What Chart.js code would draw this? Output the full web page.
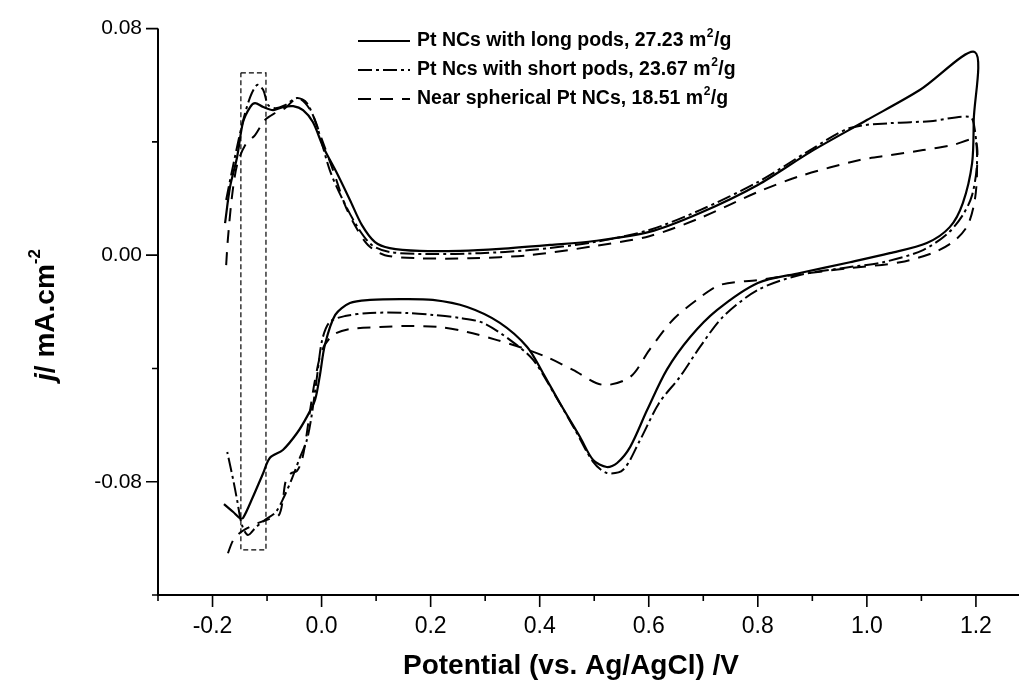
<!DOCTYPE html>
<html><head><meta charset="utf-8">
<script src="https://cdn.jsdelivr.net/npm/chart.js@4.4.0/dist/chart.umd.min.js"></script>
<style>html,body{margin:0;padding:0;background:#fff}#wrap{width:1019px;height:691px;position:relative}</style>
</head><body><div id="wrap"><canvas id="c"></canvas></div>
<script>
// ---- tick values and labels ----
const xMajorTicks = [-0.2, 0.0, 0.2, 0.4, 0.6, 0.8, 1.0, 1.2];
const xTickLabels = ['-0.2', '0.0', '0.2', '0.4', '0.6', '0.8', '1.0', '1.2'];
const xMinorTicks = [-0.3, -0.1, 0.1, 0.3, 0.5, 0.7, 0.9, 1.1];
const yMajorTicks = [-0.08, 0.0, 0.08];
const yTickLabels = ['-0.08', '0.00', '0.08'];
const yMinorTicks = [-0.12, -0.04, 0.04];

// ---- series names ----
const seriesNames = ['Pt NCs with long pods, 27.23 m', 'Pt Ncs with short pods, 23.67 m', 'Near spherical Pt NCs, 18.51 m'];

// ---- Pt NCs with long pods (solid) ----
const longX = [-0.177,-0.168,-0.155,-0.144,-0.131,-0.122,-0.107,-0.089,-0.071,-0.052,-0.034,-0.016,0.003,0.028,0.052,0.074,0.098,0.125,0.180,0.254,0.327,0.419,0.500,0.601,0.694,0.800,0.896,1.000,1.097,1.198,
  1.196,1.193,1.176,1.152,1.110,1.042,0.969,0.877,0.800,0.725,0.676,0.633,0.597,0.566,0.542,0.523,0.498,0.474,0.437,0.406,0.377,0.327,0.267,0.204,0.144,0.089,0.052,0.025,0.006,-0.003,-0.012,-0.027,-0.045,-0.071,-0.095,-0.107,-0.126,-0.144,-0.150,-0.162,-0.179];
const longY = [0.0113,0.0240,0.0346,0.0470,0.0523,0.0537,0.0523,0.0512,0.0523,0.0526,0.0512,0.0470,0.0382,0.0290,0.0195,0.0106,0.0046,0.0025,0.0015,0.0015,0.0022,0.0036,0.0050,0.0082,0.0149,0.0248,0.0364,0.0477,0.0583,0.0717,
  0.0477,0.0325,0.0184,0.0099,0.0043,0.0007,-0.0025,-0.0063,-0.0098,-0.0194,-0.0289,-0.0405,-0.0547,-0.0677,-0.0734,-0.0748,-0.0723,-0.0642,-0.0522,-0.0416,-0.0324,-0.0239,-0.0183,-0.0158,-0.0155,-0.0158,-0.0169,-0.0211,-0.0317,-0.0423,-0.0511,-0.0571,-0.0628,-0.0688,-0.0716,-0.0769,-0.0854,-0.0928,-0.0928,-0.0907,-0.0879];

// ---- Pt Ncs with short pods (dash-dot) ----
const shortX = [-0.175,-0.164,-0.146,-0.131,-0.118,-0.107,-0.098,-0.085,-0.067,-0.045,-0.027,-0.008,0.015,0.039,0.067,0.092,0.125,0.199,0.291,0.382,0.500,0.601,0.694,0.800,0.896,0.969,1.042,1.116,1.189,
  1.198,1.202,1.193,1.176,1.149,1.103,1.030,0.969,0.877,0.800,0.736,0.694,0.657,0.619,0.584,0.553,0.523,0.498,0.465,0.428,0.388,0.346,0.296,0.254,0.204,0.157,0.089,0.043,0.015,0.001,-0.008,-0.018,-0.027,-0.040,-0.054,-0.069,-0.084,-0.104,-0.120,-0.135,-0.146,-0.155,-0.162,-0.173];
const shortY = [0.0195,0.0300,0.0459,0.0558,0.0601,0.0583,0.0530,0.0519,0.0530,0.0555,0.0537,0.0452,0.0300,0.0195,0.0096,0.0036,0.0011,0.0004,0.0007,0.0018,0.0046,0.0089,0.0159,0.0258,0.0371,0.0449,0.0466,0.0473,0.0488,
  0.0442,0.0325,0.0212,0.0142,0.0078,0.0018,-0.0025,-0.0042,-0.0070,-0.0123,-0.0218,-0.0324,-0.0430,-0.0522,-0.0653,-0.0758,-0.0769,-0.0730,-0.0617,-0.0494,-0.0370,-0.0300,-0.0239,-0.0222,-0.0211,-0.0204,-0.0204,-0.0215,-0.0236,-0.0300,-0.0423,-0.0564,-0.0653,-0.0716,-0.0787,-0.0854,-0.0907,-0.0935,-0.0960,-0.0988,-0.0953,-0.0864,-0.0794,-0.0695];

// ---- Near spherical Pt NCs (dashed) ----
const nearX = [-0.175,-0.172,-0.164,-0.155,-0.140,-0.122,-0.104,-0.085,-0.067,-0.045,-0.030,-0.016,0.001,0.021,0.043,0.061,0.085,0.116,0.180,0.272,0.382,0.500,0.601,0.694,0.800,0.877,0.987,1.042,1.103,1.158,1.198,
  1.202,1.198,1.185,1.162,1.125,1.061,0.969,0.877,0.800,0.731,0.688,0.644,0.601,0.566,0.516,0.461,0.413,0.369,0.322,0.267,0.217,0.162,0.107,0.052,0.021,0.001,-0.012,-0.021,-0.029,-0.036,-0.045,-0.056,-0.066,-0.071,-0.078,-0.095,-0.117,-0.135,-0.150,-0.162,-0.173];
const nearY = [-0.0035,0.0053,0.0212,0.0318,0.0389,0.0424,0.0477,0.0502,0.0519,0.0555,0.0537,0.0495,0.0406,0.0300,0.0177,0.0106,0.0036,0.0000,-0.0011,-0.0011,0.0000,0.0032,0.0067,0.0131,0.0223,0.0279,0.0336,0.0353,0.0371,0.0389,0.0406,
  0.0300,0.0195,0.0106,0.0053,0.0011,-0.0025,-0.0046,-0.0067,-0.0088,-0.0105,-0.0158,-0.0229,-0.0335,-0.0430,-0.0458,-0.0405,-0.0360,-0.0328,-0.0300,-0.0271,-0.0254,-0.0250,-0.0254,-0.0261,-0.0282,-0.0335,-0.0441,-0.0547,-0.0653,-0.0723,-0.0762,-0.0770,-0.0800,-0.0864,-0.0917,-0.0931,-0.0946,-0.0963,-0.0981,-0.1006,-0.1059];

// ---- dashed highlight box ----
const boxX = [-0.148, -0.102, -0.102, -0.148, -0.148];
const boxY = [0.0644, 0.0644, -0.1041, -0.1041, 0.0644];

const pts = (xs, ys) => xs.map((v, i) => ({x: v, y: ys[i]}));
const FONT = '"Liberation Sans", Arial, sans-serif';
const NARROW = '"Liberation Sans Narrow", "Arial Narrow", "Liberation Sans", Arial, sans-serif';

const decorPlugin = {
  id: 'decor',
  afterDraw(chart) {
    const {ctx, chartArea: a, scales: {x, y}} = chart;
    ctx.save();
    ctx.strokeStyle = '#000';
    ctx.lineWidth = 2;
    ctx.setLineDash([]);
    ctx.beginPath();
    ctx.moveTo(a.left, a.top); ctx.lineTo(a.left, a.bottom); ctx.lineTo(a.right, a.bottom);
    ctx.stroke();
    ctx.lineWidth = 1.6;
    ctx.beginPath();
    xMajorTicks.forEach(v => { const p = x.getPixelForValue(v); ctx.moveTo(p, a.bottom); ctx.lineTo(p, a.bottom + 12); });
    xMinorTicks.forEach(v => { const p = x.getPixelForValue(v); ctx.moveTo(p, a.bottom); ctx.lineTo(p, a.bottom + 6); });
    yMajorTicks.forEach(v => { const p = y.getPixelForValue(v); ctx.moveTo(a.left, p); ctx.lineTo(a.left - 12, p); });
    yMinorTicks.forEach(v => { const p = y.getPixelForValue(v); ctx.moveTo(a.left, p); ctx.lineTo(a.left - 6, p); });
    ctx.stroke();

    ctx.fillStyle = '#000';
    // x title
    ctx.font = 'bold 28px ' + FONT;
    ctx.textAlign = 'center'; ctx.textBaseline = 'middle';
    ctx.fillText('Potential (vs. Ag/AgCl) /V', 571, 666);

    // y title (rotated, mixed styles)
    ctx.save();
    ctx.translate(44, 315);
    ctx.rotate(-Math.PI / 2);
    ctx.textBaseline = 'alphabetic'; ctx.textAlign = 'left';
    const p1 = 'j', p2 = '/ mA.cm', p3 = '-2';
    ctx.font = 'italic bold 28px ' + FONT; const w1 = ctx.measureText(p1).width;
    ctx.font = 'bold 28px ' + FONT; const w2 = ctx.measureText(p2).width;
    ctx.font = 'bold 17px ' + FONT; const w3 = ctx.measureText(p3).width;
    let sx = -(w1 + w2 + w3) / 2;
    ctx.font = 'italic bold 28px ' + FONT; ctx.fillText(p1, sx, 10); sx += w1;
    ctx.font = 'bold 28px ' + FONT; ctx.fillText(p2, sx, 10); sx += w2;
    ctx.font = 'bold 17px ' + FONT; ctx.fillText(p3, sx, -4);
    ctx.restore();

    // legend
    const dashes = [[], [14, 4, 3, 4], [13, 9]];
    const rowsY = [41, 70, 99];
    seriesNames.forEach((name, i) => {
      const ly = rowsY[i];
      ctx.lineWidth = 2.2; ctx.setLineDash(dashes[i]);
      ctx.beginPath(); ctx.moveTo(358, ly); ctx.lineTo(410, ly); ctx.stroke();
      ctx.setLineDash([]);
      ctx.textAlign = 'left'; ctx.textBaseline = 'middle';
      ctx.font = 'bold 19.5px ' + FONT;
      ctx.fillText(name, 417, ly);
      let tx = 417 + ctx.measureText(name).width;
      ctx.font = 'bold 12px ' + FONT;
      ctx.fillText('2', tx + 0.5, ly - 7);
      tx += ctx.measureText('2').width + 1;
      ctx.font = 'bold 19.5px ' + FONT;
      ctx.fillText('/g', tx, ly);
    });
    ctx.restore();
  }
};

new Chart(document.getElementById('c'), {
  type: 'scatter',
  data: {
    datasets: [
      {label: seriesNames[0], data: pts(longX, longY), showLine: true, borderColor: '#000', borderWidth: 2.2, pointRadius: 0, tension: 0.3, borderDash: []},
      {label: seriesNames[1], data: pts(shortX, shortY), showLine: true, borderColor: '#000', borderWidth: 2, pointRadius: 0, tension: 0.3, borderDash: [14, 4, 3, 4]},
      {label: seriesNames[2], data: pts(nearX, nearY), showLine: true, borderColor: '#000', borderWidth: 2, pointRadius: 0, tension: 0.3, borderDash: [13, 9]},
      {label: 'box', data: pts(boxX, boxY), showLine: true, borderColor: '#000', borderWidth: 1.2, pointRadius: 0, tension: 0, borderDash: [5, 3]}
    ]
  },
  options: {
    responsive: true, maintainAspectRatio: false, animation: false,
    layout: {padding: {left: 0, right: 0, top: 28, bottom: 0}},
    plugins: {legend: {display: false}, tooltip: {enabled: false}},
    scales: {
      x: {
        type: 'linear', min: -0.3, max: 1.279,
        afterBuildTicks: s => { s.ticks = xMajorTicks.map(v => ({value: v})); },
        afterFit: s => { s.height = 96; },
        grid: {display: false, drawTicks: false},
        border: {display: false},
        ticks: {padding: 18, color: '#000', font: {family: NARROW, size: 23}, maxRotation: 0, autoSkip: false,
          callback: (v, i) => xTickLabels[i]}
      },
      y: {
        type: 'linear', min: -0.12, max: 0.08,
        afterBuildTicks: s => { s.ticks = yMajorTicks.map(v => ({value: v})); },
        afterFit: s => { s.width = 158; },
        grid: {display: false, drawTicks: false},
        border: {display: false},
        ticks: {padding: 16, color: '#000', font: {family: FONT, size: 21},
          callback: (v, i) => yTickLabels[i]}
      }
    }
  },
  plugins: [decorPlugin]
});
</script></body></html>
